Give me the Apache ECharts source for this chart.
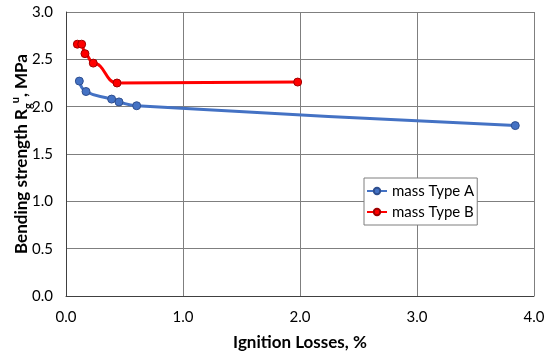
<!DOCTYPE html>
<html><head><meta charset="utf-8">
<script src="https://cdn.jsdelivr.net/npm/echarts@6/dist/echarts.min.js"></script>
<style>html,body{margin:0;padding:0;background:#fff}#c{width:550px;height:359px}</style>
</head><body><div id="c"></div>
<script>
const seriesNames = ['mass Type A', 'mass Type B'];
const typeA_x = [0.114, 0.171, 0.39, 0.453, 0.604, 3.84];
const typeA_y = [2.27, 2.16, 2.08, 2.05, 2.01, 1.80];
const typeB_x = [0.097, 0.134, 0.162, 0.233, 0.436, 1.98];
const typeB_y = [2.66, 2.66, 2.56, 2.46, 2.25, 2.26];
const xTicks = ['0.0', '1.0', '2.0', '3.0', '4.0'];
const yTicks = ['0.0', '0.5', '1.0', '1.5', '2.0', '2.5', '3.0'];

const FONT = 'Lato';
const pair = (xs, ys) => xs.map((x, i) => [x, ys[i]]);
const chart = echarts.init(document.getElementById('c'), null, {renderer: 'canvas'});
chart.setOption({
  animation: false,
  textStyle: {fontFamily: FONT},
  grid: {left: 66, right: 16, top: 12, bottom: 63, containLabel: false, outerBoundsMode: 'none'},
  legend: {
    orient: 'vertical', left: 364, top: 178,
    padding: [5, 3, 5, 2], itemGap: 5, itemWidth: 20, itemHeight: 8,
    backgroundColor: '#fff', borderColor: '#7f7f7f', borderWidth: 1,
    textStyle: {fontFamily: FONT, fontSize: 15, color: '#000', lineHeight: 16},
    data: seriesNames
  },
  xAxis: {
    type: 'value', min: 0, max: 4, interval: 1,
    name: 'Ignition Losses, %', nameLocation: 'middle', nameGap: 38, nameMoveOverlap: false,
    nameTextStyle: {fontFamily: FONT, fontSize: 17, fontWeight: 'bold', color: '#000'},
    axisLine: {show: true, lineStyle: {color: '#404040', width: 1}},
    axisTick: {show: false},
    axisLabel: {margin: 14, fontSize: 15, color: '#000', fontFamily: FONT,
      formatter: (v) => xTicks[Math.round(v)]},
    splitLine: {show: true, lineStyle: {color: '#7f7f7f', width: 1}}
  },
  yAxis: {
    type: 'value', min: 0, max: 3, interval: 0.5,
    name: 'Bending strength R{sub|g}{sup|u}, MPa', nameLocation: 'middle', nameGap: 32, nameRotate: 90,
    nameMoveOverlap: false,
    nameTextStyle: {fontFamily: FONT, fontSize: 17, fontWeight: 'bold', color: '#000', lineHeight: 24,
      rich: {
        sub: {fontFamily: FONT, fontSize: 11, fontWeight: 'bold', color: '#000', verticalAlign: 'bottom', lineHeight: 24},
        sup: {fontFamily: FONT, fontSize: 11, fontWeight: 'bold', color: '#000', verticalAlign: 'top', lineHeight: 24}
      }},
    axisLine: {show: true, lineStyle: {color: '#404040', width: 1}},
    axisTick: {show: false},
    axisLabel: {margin: 13, fontSize: 15, color: '#000', fontFamily: FONT,
      formatter: (v) => yTicks[Math.round(v * 2)]},
    splitLine: {show: true, lineStyle: {color: '#7f7f7f', width: 1}}
  },
  series: [
    {name: seriesNames[0], type: 'line', data: pair(typeA_x, typeA_y), smooth: 0.5,
      symbol: 'circle', symbolSize: 8,
      lineStyle: {color: '#4472C4', width: 3},
      itemStyle: {color: '#4472C4', borderColor: '#2F4F8F', borderWidth: 1}},
    {name: seriesNames[1], type: 'line', data: pair(typeB_x, typeB_y), smooth: 0.5, smoothMonotone: 'x',
      symbol: 'circle', symbolSize: 8,
      lineStyle: {color: '#FF0000', width: 3},
      itemStyle: {color: '#FF0000', borderColor: '#A00000', borderWidth: 1}}
  ]
});
</script></body></html>
